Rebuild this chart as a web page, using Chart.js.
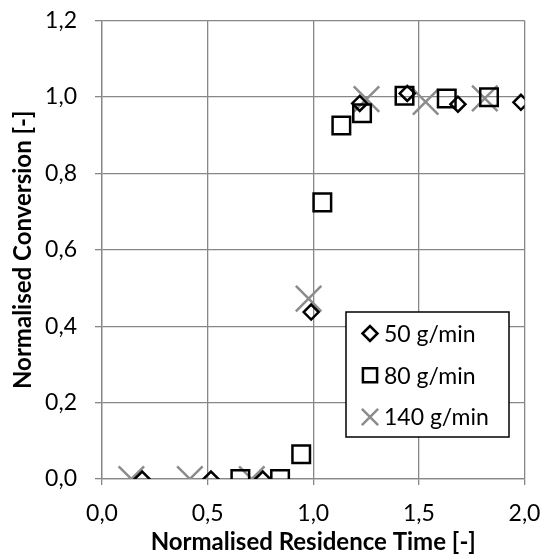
<!DOCTYPE html>
<html>
<head>
<meta charset="utf-8">
<script src="https://cdn.jsdelivr.net/npm/chart.js"></script>
<style>
  html, body { margin: 0; padding: 0; background: #fff; }
</style>
</head>
<body>
<canvas id="myChart" width="545" height="558"></canvas>
<script>
// series
const time50 = [0.19, 0.516, 0.761, 0.99, 1.22, 1.445, 1.685, 1.983];
const conv50 = [0, 0, 0, 0.437, 0.983, 1.009, 0.981, 0.986];

const time80 = [0.655, 0.843, 0.943, 1.043, 1.133, 1.231, 1.432, 1.632, 1.832];
const conv80 = [0, 0, 0.065, 0.724, 0.925, 0.957, 1.003, 0.996, 0.999];

const time140 = [0.139, 0.416, 0.709, 0.978, 1.252, 1.532, 1.812];
const conv140 = [0, 0, 0, 0.472, 0.994, 0.987, 0.996];

const seriesLabels = ['50 g/min', '80 g/min', '140 g/min'];
const xTicks = [0, 0.5, 1.0, 1.5, 2.0];
const yTicks = [0, 0.2, 0.4, 0.6, 0.8, 1.0, 1.2];

const gridGray = '#878787';
const xGray = '#8c8c8c';
const font = 'Lato';

const toPoints = (xs, ys) => xs.map((x, i) => ({ x: x, y: ys[i] }));
const comma = v => Number(v).toFixed(1).replace('.', ',');

// legend drawn inside the plot like the excel one
const insideLegend = {
  id: 'insideLegend',
  afterDraw(chart) {
    const c = chart.ctx;
    const box = { x: 346, y: 312, w: 163, h: 125 };
    c.save();
    c.fillStyle = '#fff';
    c.fillRect(box.x, box.y, box.w, box.h);
    c.strokeStyle = '#000';
    c.lineWidth = 1.5;
    c.strokeRect(box.x, box.y, box.w, box.h);
    const sizes = [7.5, 10, 11.5];
    chart.data.datasets.forEach((ds, i) => {
      const cy = box.y + 21.5 + i * 41.7;
      c.strokeStyle = ds.borderColor;
      c.fillStyle = 'rgba(0,0,0,0)';
      c.lineWidth = ds.borderWidth;
      Chart.helpers.drawPoint(c, { pointStyle: ds.pointStyle, radius: sizes[i], borderWidth: ds.borderWidth, rotation: 0 }, 370, cy);
      c.fillStyle = '#000';
      c.font = '23px ' + font;
      c.textBaseline = 'middle';
      c.textAlign = 'left';
      c.fillText(ds.label, 384, cy + 1);
    });
    c.restore();
  }
};

const ctx = document.getElementById('myChart');
new Chart(ctx, {
  type: 'scatter',
  data: {
    datasets: [
      {
        label: seriesLabels[0],
        data: toPoints(time50, conv50),
        pointStyle: 'rectRot',
        pointRadius: 7.5,
        borderColor: '#000',
        backgroundColor: 'rgba(0,0,0,0)',
        borderWidth: 2.5
      },
      {
        label: seriesLabels[1],
        data: toPoints(time80, conv80),
        pointStyle: 'rect',
        pointRadius: 12.4,
        borderColor: '#000',
        backgroundColor: 'rgba(0,0,0,0)',
        borderWidth: 2.5
      },
      {
        label: seriesLabels[2],
        data: toPoints(time140, conv140),
        pointStyle: 'crossRot',
        pointRadius: 18,
        borderColor: xGray,
        backgroundColor: 'rgba(0,0,0,0)',
        borderWidth: 2.5
      }
    ]
  },
  options: {
    responsive: false,
    animation: false,
    layout: { padding: { left: 0, right: 20, top: 13, bottom: 0 } },
    plugins: {
      legend: { display: false },
      tooltip: { enabled: false }
    },
    scales: {
      x: {
        type: 'linear',
        min: 0,
        max: 2,
        afterFit: s => { s.height = 79; s.paddingLeft = 0; s.paddingRight = 0; },
        afterBuildTicks: s => { s.ticks = xTicks.map(v => ({ value: v })); },
        ticks: { callback: comma, color: '#000', padding: 15, maxRotation: 0, font: { family: font, size: 23 } },
        grid: { color: gridGray, lineWidth: 1.3, tickLength: 6 },
        border: { color: gridGray, width: 1.3 },
        title: {
          display: true,
          text: 'Normalised Residence Time [-]',
          color: '#000',
          padding: { top: 0, bottom: 1 },
          font: { family: font, size: 24, weight: 'bold' }
        }
      },
      y: {
        min: 0,
        max: 1.2,
        afterFit: s => { s.width = 102; s.paddingTop = 0; s.paddingBottom = 0; },
        afterBuildTicks: s => { s.ticks = yTicks.map(v => ({ value: v })); },
        ticks: { callback: comma, color: '#000', padding: 18, font: { family: font, size: 23 } },
        grid: { color: gridGray, lineWidth: 1.3, tickLength: 7 },
        border: { color: gridGray, width: 1.3 },
        title: {
          display: true,
          text: 'Normalised Conversion [-]',
          color: '#000',
          padding: { top: 9, bottom: 0 },
          font: { family: font, size: 24, weight: 'bold' }
        }
      }
    }
  },
  plugins: [insideLegend]
});
</script>
</body>
</html>
